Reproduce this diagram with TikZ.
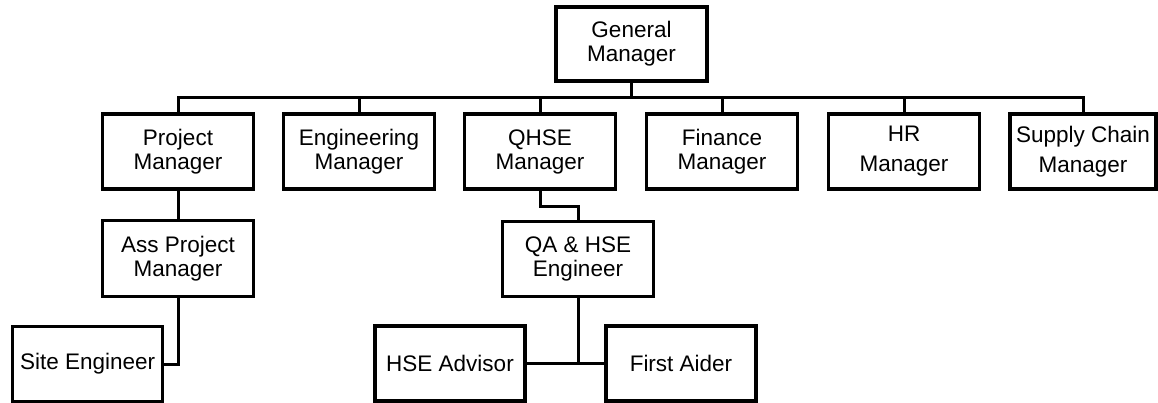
\documentclass[tikz,border=0pt]{standalone}
\usepackage{fontspec}
\setmainfont{Liberation Sans}
\begin{document}
\begin{tikzpicture}[x=1pt,y=-1pt,
  unit/.style={draw=black, line width=3.4pt, fill=white, inner sep=0pt,
    minimum width=151pt, minimum height=75pt, align=center,
    font=\fontsize{22.5}{24}\selectfont},
  link/.style={draw=black, line width=3pt}]
  \useasboundingbox (0,0) rectangle (1158,403);

  % top level
  \node[unit, minimum height=74pt] (gm) at (631.5,44) {General\\Manager};

  % managers
  \node[unit] (pm)   at (178,151.5)  {Project\\Manager};
  \node[unit] (eng)  at (359,151.5)  {Engineering\\Manager};
  \node[unit] (qhse) at (540,151.5)  {QHSE\\Manager};
  \node[unit] (fin)  at (722,151.5)  {Finance\\Manager};
  \node[unit] (hr)   at (904,151.5)  {HR\\[6pt]Manager};
  \node[unit, minimum width=146pt] (sc) at (1083,151.5) {Supply Chain\\[6pt]Manager};

  % project line
  \node[unit, minimum height=76pt] (apm) at (178,258.7) {Ass Project\\Manager};
  \node[unit, minimum width=150pt] (site) at (87.7,364) {Site Engineer};

  % QHSE line
  \node[unit] (qa)  at (578,259.2) {QA \& HSE\\Engineer};
  \node[unit, minimum width=150pt] (hse) at (450,363.5) {HSE Advisor};
  \node[unit, minimum width=150pt] (fa)  at (681,363.5) {First Aider};

  % bus under the general manager
  \coordinate (bus) at (0,98);
  \draw[link, line width=3.8pt] (gm.south) -- (gm.south |- bus);
  \draw[link] (pm.north) -- (pm.north |- bus) -| (sc.north);
  \foreach \n in {eng,qhse,fin,hr}
    \draw[link] (\n.north) -- (\n.north |- bus);

  % lower links
  \draw[link] (pm.south) -- (pm.south |- apm.north);
  \draw[link] (apm.south) |- (site.east);
  \draw[link] (qhse.south) -- ++(0,16) -| (qa.north);
  \draw[link] (qa.south) |- (hse.east);
  \draw[link] (qa.south) |- (fa.west);
\end{tikzpicture}
\end{document}
